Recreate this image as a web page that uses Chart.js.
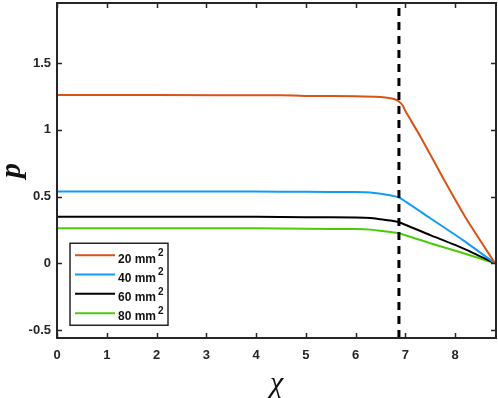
<!DOCTYPE html>
<html>
<head>
<meta charset="utf-8">
<script src="https://cdn.jsdelivr.net/npm/chart.js@4/dist/chart.umd.min.js"></script>
<style>
html,body{margin:0;padding:0;background:#fff;}
#wrap{width:498px;height:398px;}
</style>
</head>
<body>
<div id="wrap"><canvas id="c" width="498" height="398"></canvas></div>
<script>
// ---- data ----
const areas = [20, 40, 60, 80];
const colors = ['#D95319', '#109CF6', '#000000', '#4CCB0A'];

const x20 = [0, 2, 4.5, 5, 6, 6.5, 6.75, 6.87, 6.95, 7.0, 7.3, 7.77, 8.23, 8.8];
const y20 = [1.26, 1.26, 1.258, 1.254, 1.252, 1.245, 1.232, 1.212, 1.18, 1.14, 0.95, 0.63, 0.33, 0];

const x40 = [0, 4, 5, 6, 6.3, 6.5, 6.7, 6.87, 7.5, 8.17, 8.8];
const y40 = [0.537, 0.537, 0.535, 0.533, 0.53, 0.52, 0.508, 0.493, 0.337, 0.17, 0];

const x60 = [0, 4, 5, 6, 6.3, 6.5, 6.7, 6.87, 7.5, 8.17, 8.8];
const y60 = [0.349, 0.349, 0.345, 0.343, 0.34, 0.33, 0.32, 0.307, 0.211, 0.11, 0];

const x80 = [0, 4, 5, 6, 6.3, 6.5, 6.7, 6.87, 7.5, 8.17, 8.8];
const y80 = [0.262, 0.262, 0.258, 0.256, 0.252, 0.243, 0.235, 0.225, 0.15, 0.075, 0];

const xCritical = 6.87;
const xRange = [0, 8.82];
const yRange = [-0.56, 1.95];
const xTicks = [0, 1, 2, 3, 4, 5, 6, 7, 8];
const yTicks = [-0.5, 0, 0.5, 1, 1.5];
const xTitle = 'χ';
const yTitle = 'p';

// ---- build datasets ----
const series = [[x20, y20], [x40, y40], [x60, y60], [x80, y80]];
const datasets = series.map((s, i) => ({
  label: areas[i] + ' mm²',
  data: s[0].map((x, k) => ({x: x, y: s[1][k]})),
  borderColor: colors[i],
  borderWidth: 2,
  pointRadius: 0,
  tension: 0.15,
  fill: false,
  order: 1
}));
datasets.push({
  label: '',
  data: [{x: xCritical, y: yRange[0]}, {x: xCritical, y: yRange[1]}],
  borderColor: '#000',
  borderWidth: 3,
  borderDash: [8, 6],
  pointRadius: 0,
  fill: false,
  order: 0
});

const AX = '#262626';

const framePlugin = {
  id: 'frame',
  afterDatasetsDraw(chart) {
    const ctx = chart.ctx, a = chart.chartArea;
    const xs = chart.scales.x, ys = chart.scales.y;
    ctx.save();
    ctx.strokeStyle = AX;
    ctx.lineWidth = 2;
    ctx.strokeRect(a.left, a.top, a.right - a.left, a.bottom - a.top);
    ctx.lineWidth = 1.5;
    const tl = 5;
    ctx.beginPath();
    xTicks.forEach(v => {
      const px = Math.round(xs.getPixelForValue(v)) + 0.5;
      ctx.moveTo(px, a.bottom); ctx.lineTo(px, a.bottom - tl);
      ctx.moveTo(px, a.top); ctx.lineTo(px, a.top + tl);
    });
    yTicks.forEach(v => {
      const py = Math.round(ys.getPixelForValue(v)) + 0.5;
      ctx.moveTo(a.left, py); ctx.lineTo(a.left + tl, py);
      ctx.moveTo(a.right, py); ctx.lineTo(a.right - tl, py);
    });
    ctx.stroke();

    // legend box
    const lx = a.left + 13, ly = ys.getPixelForValue(0) - 20, lw = 98, lh = 82;
    ctx.fillStyle = '#fff';
    ctx.fillRect(lx, ly, lw, lh);
    ctx.strokeStyle = AX;
    ctx.lineWidth = 1.5;
    ctx.strokeRect(lx, ly, lw, lh);
    const items = chart.data.datasets.filter(d => d.label);
    items.forEach((d, i) => {
      const cy = ly + 12 + i * 19.3;
      ctx.strokeStyle = d.borderColor;
      ctx.lineWidth = 2;
      ctx.beginPath();
      ctx.moveTo(lx + 5, cy); ctx.lineTo(lx + 45, cy);
      ctx.stroke();
      const base = d.label.replace('²', '');
      ctx.fillStyle = '#111';
      ctx.font = 'bold 12px "Liberation Sans", Arial, sans-serif';
      ctx.textBaseline = 'middle';
      ctx.textAlign = 'left';
      ctx.fillText(base, lx + 48, cy + 4);
      const w = ctx.measureText(base).width;
      if (d.label.indexOf('²') >= 0) {
        ctx.font = 'bold 10px "Liberation Sans", Arial, sans-serif';
        ctx.fillText('2', lx + 48 + w + 2, cy - 2);
      }
    });

    // axis titles
    ctx.fillStyle = '#111';
    ctx.textAlign = 'center';
    ctx.textBaseline = 'middle';
    ctx.font = 'italic 30px "Liberation Serif", "DejaVu Serif", serif';
    ctx.fillText(xTitle, (a.left + a.right) / 2, 384);
    ctx.save();
    ctx.translate(14, (a.top + a.bottom) / 2);
    ctx.rotate(-Math.PI / 2);
    ctx.font = 'bold italic 30px "Liberation Serif", "DejaVu Serif", serif';
    ctx.fillText(yTitle, 0, -2);
    ctx.restore();
    ctx.restore();
  }
};

const bgPlugin = {
  id: 'bg',
  beforeDraw(chart) {
    const ctx = chart.ctx;
    ctx.save();
    ctx.fillStyle = '#fff';
    ctx.fillRect(0, 0, chart.width, chart.height);
    ctx.restore();
  }
};

function noPad(s) { s.paddingTop = 0; s.paddingBottom = 0; s.paddingLeft = 0; s.paddingRight = 0; }

new Chart(document.getElementById('c'), {
  type: 'line',
  data: {datasets: datasets},
  options: {
    responsive: false,
    animation: false,
    layout: {padding: {top: 3, right: 2, left: 0, bottom: 0}},
    plugins: {legend: {display: false}, tooltip: {enabled: false}},
    scales: {
      x: {
        type: 'linear',
        min: xRange[0], max: xRange[1],
        grid: {display: false, drawTicks: false},
        border: {display: false},
        afterBuildTicks(s) { s.ticks = xTicks.map(v => ({value: v})); },
        afterFit(s) { s.height = 60; noPad(s); },
        ticks: {
          padding: 10,
          color: AX,
          font: {family: '"Liberation Sans", Arial, sans-serif', size: 13, weight: 'bold'},
          maxRotation: 0,
          callback: v => String(v)
        }
      },
      y: {
        type: 'linear',
        min: yRange[0], max: yRange[1],
        grid: {display: false, drawTicks: false},
        border: {display: false},
        afterBuildTicks(s) { s.ticks = yTicks.map(v => ({value: v})); },
        afterFit(s) { s.width = 57; noPad(s); },
        ticks: {
          padding: 6,
          color: AX,
          font: {family: '"Liberation Sans", Arial, sans-serif', size: 13, weight: 'bold'},
          callback: v => String(v)
        }
      }
    }
  },
  plugins: [bgPlugin, framePlugin]
});
</script>
</body>
</html>
